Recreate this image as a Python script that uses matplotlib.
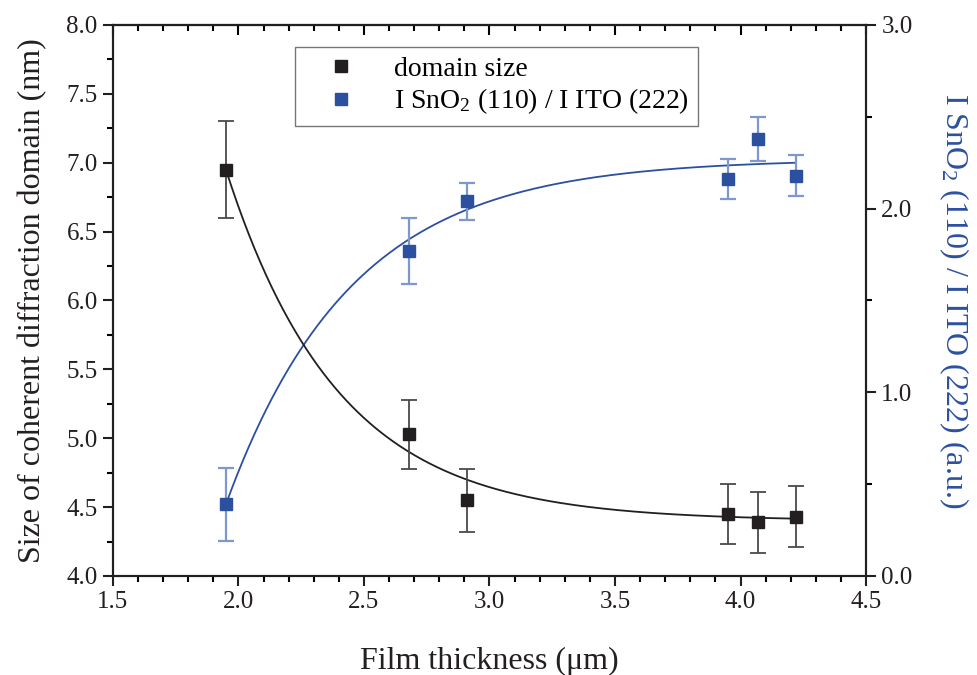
import numpy as np
import matplotlib
matplotlib.use("Agg")
import matplotlib.pyplot as plt
from matplotlib.ticker import MultipleLocator, FormatStrFormatter

plt.rcParams['font.family'] = ['Liberation Serif', 'DejaVu Serif']
plt.rcParams['mathtext.fontset'] = 'custom'
plt.rcParams['mathtext.rm'] = 'Liberation Serif'
plt.rcParams['mathtext.it'] = 'Liberation Serif:italic'
plt.rcParams['mathtext.bf'] = 'Liberation Serif:bold'

# data
thickness = [1.95, 2.68, 2.91, 3.95, 4.07, 4.22]
domain_size = [6.95, 5.03, 4.55, 4.45, 4.39, 4.43]
domain_err = [0.35, 0.25, 0.23, 0.22, 0.22, 0.22]
ratio = [0.39, 1.77, 2.04, 2.16, 2.38, 2.18]
ratio_err = [0.20, 0.18, 0.10, 0.11, 0.12, 0.11]

# exponential fit parameters (estimated from the drawn curves)
domain_fit = dict(y0=4.40, a=2.55, t=0.448)
ratio_fit = dict(y0=2.27, a=-1.88, t=0.50)

BLACK = '#231f20'
BLUE = '#2b50a0'
BLUE_ERR = '#7d98cc'
GRAY_ERR = '#4a4a4a'


def exp_fit(x, p):
    return p['y0'] + p['a'] * np.exp(-(x - thickness[0]) / p['t'])


fig = plt.figure(figsize=(9.78, 6.75), dpi=100)
ax = fig.add_axes([0.1155, 0.1467, 0.77, 0.8163])
ax2 = ax.twinx()

xf = np.linspace(thickness[0], thickness[-1], 300)

# domain size
ax.plot(xf, exp_fit(xf, domain_fit), color=BLACK, lw=1.3, zorder=2)
ax.errorbar(thickness, domain_size, yerr=domain_err, fmt='none', ecolor=GRAY_ERR,
            elinewidth=1.3, capsize=6, capthick=1.3, zorder=3)
h1, = ax.plot(thickness, domain_size, 's', color=BLACK, ms=9, ls='none', zorder=4,
              label='domain size')

# intensity ratio
ax2.plot(xf, exp_fit(xf, ratio_fit), color=BLUE, lw=1.3, zorder=2)
ax2.errorbar(thickness, ratio, yerr=ratio_err, fmt='none', ecolor=BLUE_ERR,
             elinewidth=1.6, capsize=6, capthick=1.6, zorder=3)
h2, = ax2.plot(thickness, ratio, 's', color=BLUE, ms=9, ls='none', zorder=4,
               label=r'I SnO$_{\mathrm{2}}$ (110) / I ITO (222)')

ax.set_xlim(1.5, 4.5)
ax.set_ylim(4.0, 8.0)
ax2.set_ylim(0.0, 3.0)

ax.xaxis.set_major_locator(MultipleLocator(0.5))
ax.xaxis.set_minor_locator(MultipleLocator(0.1))
ax.yaxis.set_major_locator(MultipleLocator(0.5))
ax.yaxis.set_minor_locator(MultipleLocator(0.25))
ax.xaxis.set_major_formatter(FormatStrFormatter('%.1f'))
ax.yaxis.set_major_formatter(FormatStrFormatter('%.1f'))
ax2.yaxis.set_major_locator(MultipleLocator(1.0))
ax2.yaxis.set_minor_locator(MultipleLocator(0.5))
ax2.yaxis.set_major_formatter(FormatStrFormatter('%.1f'))

ax.tick_params(axis='both', which='major', direction='out', length=7, width=1.5,
               labelsize=18, colors=BLACK, pad=4)
ax.tick_params(axis='both', which='minor', direction='out', length=4, width=1.5)
ax2.tick_params(axis='y', which='major', direction='out', length=7, width=1.5,
                labelsize=18, colors=BLACK, pad=4)
ax2.tick_params(axis='y', which='minor', direction='out', length=4, width=1.5)

# top axis: inward ticks, no labels
top = ax.secondary_xaxis('top')
top.xaxis.set_major_locator(MultipleLocator(0.5))
top.xaxis.set_minor_locator(MultipleLocator(0.1))
top.tick_params(which='major', direction='in', length=7, width=1.5, labeltop=False)
top.tick_params(which='minor', direction='in', length=4, width=1.5)
top.spines['top'].set_linewidth(1.5)

for a in (ax, ax2):
    for s in a.spines.values():
        s.set_linewidth(1.5)
        s.set_color(BLACK)

ax.set_xlabel('Film thickness (μm)', fontsize=23, labelpad=24, color=BLACK)
ax.set_ylabel('Size of coherent diffraction domain (nm)', fontsize=23, labelpad=14,
              color=BLACK)
ax2.set_ylabel(r'I SnO$_{\mathrm{2}}$ (110) / I ITO (222) (a.u.)', fontsize=23,
               color=BLUE, rotation=270, labelpad=42)

leg = ax.legend(handles=[h1, h2], loc='upper left', bbox_to_anchor=(0.242, 0.96),
                fontsize=20, frameon=True, fancybox=False, edgecolor='#555555',
                handlelength=2.6, handletextpad=0.6, borderpad=0.35,
                labelspacing=0.15, borderaxespad=0)
leg.get_frame().set_linewidth(1.0)
for h in leg.legend_handles:
    h.set_markersize(8)

ax.set_zorder(ax2.get_zorder() + 1)
ax.patch.set_visible(False)

fig.savefig('out.png', dpi=100)
